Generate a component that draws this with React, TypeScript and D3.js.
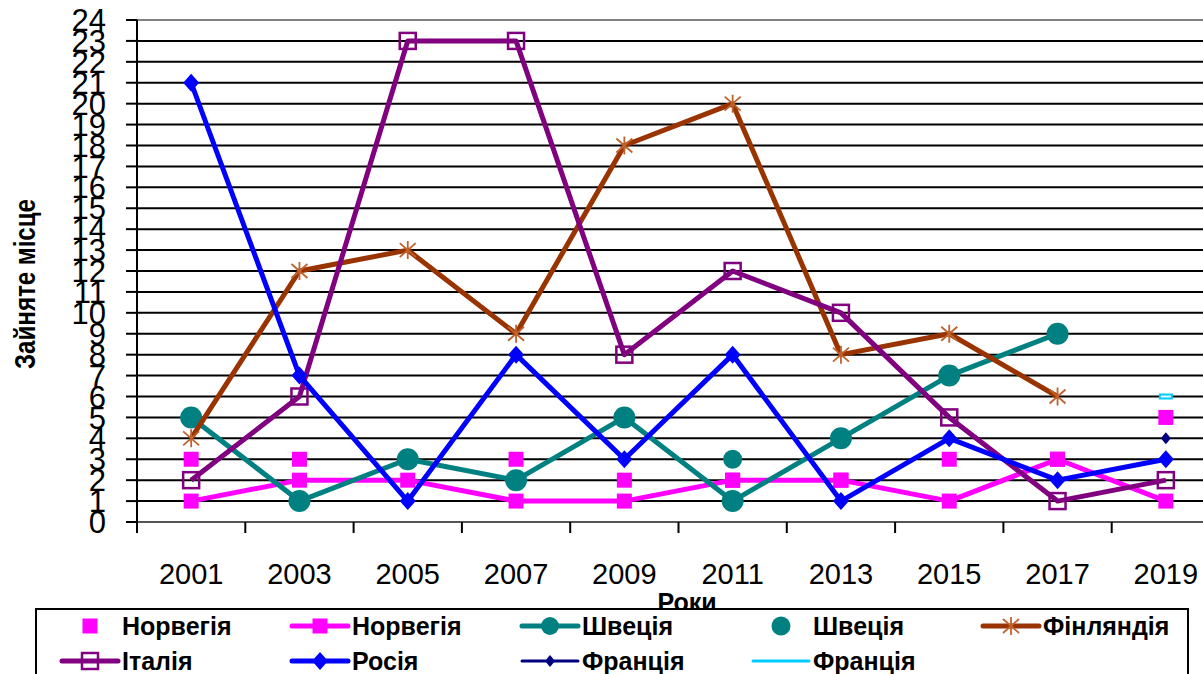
import React from 'react';
import * as d3 from 'd3';

const years = ['2001', '2003', '2005', '2007', '2009', '2011', '2013', '2015', '2017', '2019'];
const yTickValues = [0, 1, 2, 3, 4, 5, 6, 7, 8, 9, 10, 11, 12, 13, 14, 15, 16, 17, 18, 19, 20, 21, 22, 23, 24];

const norwayPts = [3, 3, null, 3, 2, 2, 2, 3, 3, 5];
const norwayLine = [1, 2, 2, 1, 1, 2, 2, 1, 3, 1];
const swedenLine = [5, 1, 3, 2, 5, 1, 4, 7, 9, null];
const swedenPts = [null, null, null, null, null, 3, null, null, null, null];
const finland = [4, 12, 13, 9, 18, 20, 8, 9, 6, null];
const italy = [2, 6, 23, 23, 8, 12, 10, 5, 1, 2];
const russia = [21, 7, 1, 8, 3, 8, 1, 4, 2, 3];
const franceNavy = [null, null, null, null, null, null, null, null, null, 4];
const franceCyan = [null, null, null, null, null, null, null, null, null, 6];

type Val = number | null;
type Series = {
    name: string;
    values: Val[];
    color: string;
    line: number; // 0 = no line
    marker: 'square' | 'circle' | 'smallcircle' | 'star' | 'opensquare' | 'diamond' | 'smalldiamond' | 'dash' | 'none';
};

const series: Series[] = [
    { name: 'Норвегія', values: norwayPts, color: '#ff00ff', line: 0, marker: 'square' },
    { name: 'Норвегія', values: norwayLine, color: '#ff00ff', line: 5, marker: 'square' },
    { name: 'Швеція', values: swedenLine, color: '#008080', line: 5, marker: 'circle' },
    { name: 'Швеція', values: swedenPts, color: '#008080', line: 0, marker: 'smallcircle' },
    { name: 'Фінляндія', values: finland, color: '#993300', line: 5, marker: 'star' },
    { name: 'Італія', values: italy, color: '#800080', line: 5, marker: 'opensquare' },
    { name: 'Росія', values: russia, color: '#0000ff', line: 5, marker: 'diamond' },
    { name: 'Франція', values: franceNavy, color: '#000080', line: 3, marker: 'smalldiamond' },
    { name: 'Франція', values: franceCyan, color: '#00ccff', line: 3, marker: 'dash' },
];

const W = 1203;
const H = 674;
const plot = { left: 137, right: 1220, top: 20, bottom: 522 };
const font = '"Liberation Sans", Arial, sans-serif';

const x = d3.scaleBand<string>().domain(years).range([plot.left, plot.right]);
const y = d3.scaleLinear().domain([0, 24]).range([plot.bottom, plot.top]);
const cx = (yr: string) => (x(yr) as number) + x.bandwidth() / 2;

const Marker = ({ kind, color, px, py, legend = false }: { kind: Series['marker']; color: string; px: number; py: number; legend?: boolean }) => {
    switch (kind) {
        case 'square':
            return <rect x={px - 7.5} y={py - 7.5} width={15} height={15} fill={color} />;
        case 'circle':
            return <circle cx={px} cy={py} r={legend ? 9 : 11} fill={color} />;
        case 'smallcircle':
            return <circle cx={px} cy={py} r={9.5} fill={color} />;
        case 'opensquare':
            return <rect x={px - 8} y={py - 8} width={16} height={16} fill="none" stroke={color} strokeWidth={2.5} />;
        case 'diamond':
            return <path d={`M${px},${py - 9}L${px + 8},${py}L${px},${py + 9}L${px - 8},${py}Z`} fill={color} />;
        case 'smalldiamond':
            return <path d={`M${px},${py - 6}L${px + 5},${py}L${px},${py + 6}L${px - 5},${py}Z`} fill={color} />;
        case 'dash':
            return legend ? null : <rect x={px - 6} y={py - 2} width={12} height={4} fill="#e0f8ff" stroke={color} strokeWidth={2} />;
        case 'star':
            return (
                <path
                    d={`M${px},${py - 9}V${py + 9}M${px - 8},${py - 7}L${px + 8},${py + 7}M${px - 8},${py + 7}L${px + 8},${py - 7}`}
                    stroke="#c0622c"
                    strokeWidth={1.8}
                    fill="none"
                />
            );
        default:
            return null;
    }
};

const legendCols = [90, 320, 550, 781, 1011];
const legendRows = [626, 661];

export default function App() {
    const line = d3
        .line<Val>()
        .defined((d) => d != null)
        .x((_, i) => cx(years[i]))
        .y((d) => y(d as number));

    return (
        <svg width={W} height={H} style={{ position: 'absolute', left: 0, top: 0, background: '#fff' }}>
            <rect width={W} height={H} fill="#fff" />

            {/* grid */}
            {yTickValues.map((t) => (
                <line
                    key={t}
                    x1={plot.left}
                    x2={plot.right}
                    y1={y(t)}
                    y2={y(t)}
                    stroke={t === 24 ? '#808080' : t === 0 ? '#555' : '#000'}
                    strokeWidth={2}
                />
            ))}

            {/* y axis */}
            <line x1={plot.left} x2={plot.left} y1={plot.top} y2={plot.bottom + 11} stroke="#000" strokeWidth={2} />
            {yTickValues.map((t) => (
                <g key={'yt' + t}>
                    <line x1={plot.left - 11} x2={plot.left} y1={y(t)} y2={y(t)} stroke="#000" strokeWidth={2} />
                    <text x={106} y={y(t)} dy="0.36em" textAnchor="end" fontFamily={font} fontSize={31} fill="#000">
                        {t}
                    </text>
                </g>
            ))}

            {/* x axis ticks */}
            {years.map((yr) => (
                <line key={'xt' + yr} x1={x(yr)} x2={x(yr)} y1={plot.bottom} y2={plot.bottom + 11} stroke="#000" strokeWidth={2} />
            ))}
            {years.map((yr) => (
                <text key={'xl' + yr} x={cx(yr)} y={584} textAnchor="middle" fontFamily={font} fontSize={29} fill="#000">
                    {yr}
                </text>
            ))}

            {/* series */}
            {series.map((s, si) => (
                <g key={'s' + si}>
                    {s.line > 0 && (
                        <path d={line(s.values) || ''} fill="none" stroke={s.color} strokeWidth={s.line} strokeLinejoin="round" />
                    )}
                    {s.values.map((v, i) =>
                        v == null ? null : <Marker key={i} kind={s.marker} color={s.color} px={cx(years[i])} py={y(v)} />
                    )}
                </g>
            ))}

            {/* axis titles */}
            <text
                transform="translate(35,284) rotate(-90)"
                textAnchor="middle"
                fontFamily={font}
                fontWeight="bold"
                fontSize={30}
                textLength={170}
                lengthAdjust="spacingAndGlyphs"
                fill="#000"
            >
                Зайняте місце
            </text>
            <text x={687} y={611} textAnchor="middle" fontFamily={font} fontWeight="bold" fontSize={25} fill="#000">
                Роки
            </text>

            {/* legend */}
            <rect x={36} y={609} width={1152} height={80} fill="#fff" stroke="#000" strokeWidth={2} />
            {series.map((s, i) => {
                const col = legendCols[i % 5];
                const row = legendRows[Math.floor(i / 5)];
                return (
                    <g key={'lg' + i}>
                        {s.line > 0 && (
                            <line x1={col - 28} x2={col + 28} y1={row} y2={row} stroke={s.color} strokeWidth={s.line} strokeLinecap="round" />
                        )}
                        <Marker kind={s.marker} color={s.color} px={col} py={row} legend />
                        <text x={col + 32} y={row} dy="0.36em" fontFamily={font} fontWeight="bold" fontSize={25} fill="#000">
                            {s.name}
                        </text>
                    </g>
                );
            })}
        </svg>
    );
}
